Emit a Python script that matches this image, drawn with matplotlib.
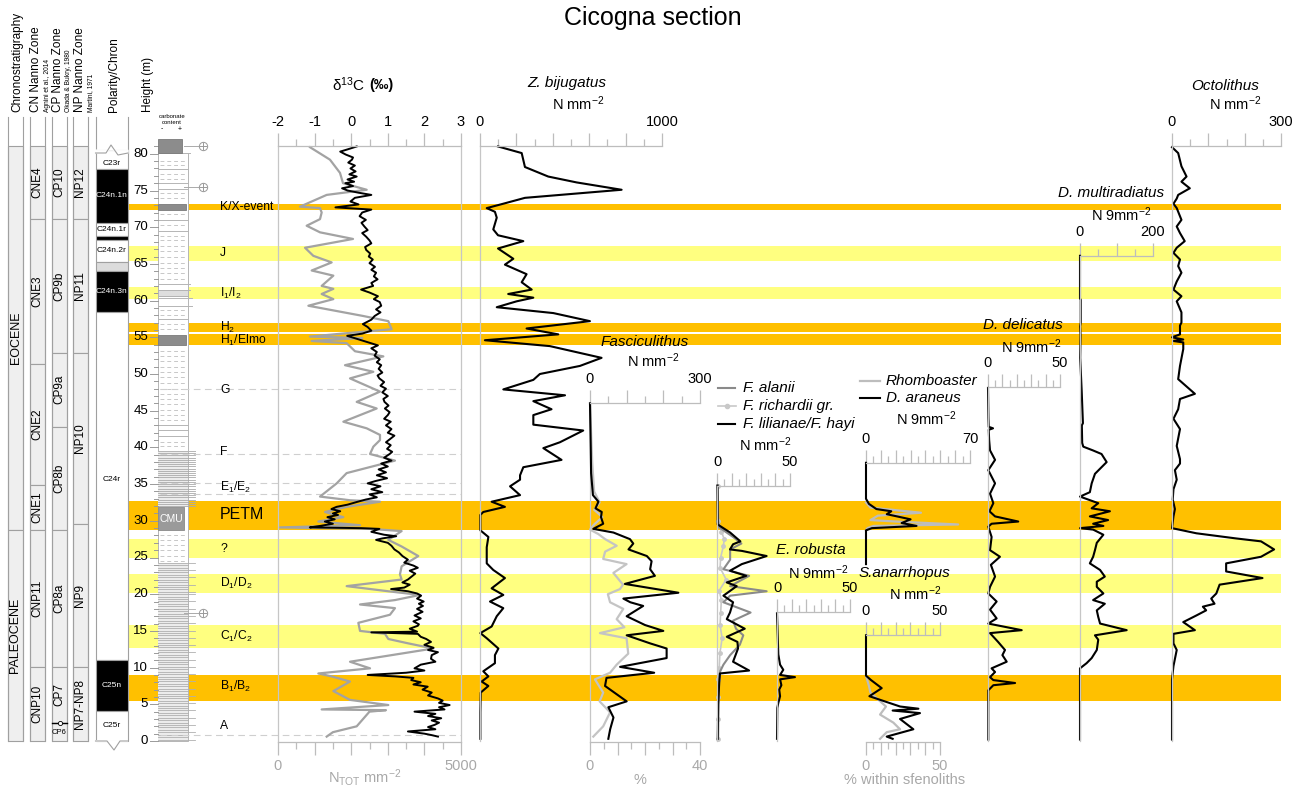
import matplotlib
matplotlib.use('Agg')
import matplotlib.pyplot as plt
from matplotlib.patches import Rectangle
from matplotlib.ticker import MultipleLocator, FuncFormatter
import numpy as np

plt.rcParams['font.family'] = ['Liberation Sans', 'DejaVu Sans']
plt.rcParams['mathtext.fontset'] = 'custom'
plt.rcParams['mathtext.rm'] = 'Liberation Sans'
plt.rcParams['mathtext.it'] = 'Liberation Sans:italic'
plt.rcParams['mathtext.bf'] = 'Liberation Sans:bold'

# ---------------------------------------------------------------- data
band_bottom = [72.4, 65.4, 60.2, 55.7, 53.95, 28.7, 25.0, 20.1, 12.7, 5.5]
band_top = [73.2, 67.4, 61.8, 57.0, 55.4, 32.7, 27.5, 22.7, 15.8, 9.0]
band_strong = [True, False, False, True, True, True, False, False, False, True]

event_labels = ['K/X-event', 'J', 'I$_1$/I$_2$', 'H$_2$', 'H$_1$/Elmo', 'G', 'F',
                'E$_1$/E$_2$', 'PETM', '?', 'D$_1$/D$_2$', 'C$_1$/C$_2$', 'B$_1$/B$_2$', 'A']
event_heights = [72.75, 66.5, 61.0, 56.4, 54.6, 47.8, 39.4, 34.5, 30.8, 26.2, 21.5, 14.3, 7.4, 2.0]

chrono_names = ['EOCENE', 'PALEOCENE']
chrono_bounds = [81.06, 28.75, 0.0]
cn_names = ['CNE4', 'CNE3', 'CNE2', 'CNE1', 'CNP11', 'CNP10']
cn_bounds = [81.06, 71.1, 51.4, 34.9, 28.75, 10.1, 0.0]
cp_names = ['CP10', 'CP9b', 'CP9a', 'CP8b', 'CP8a', 'CP7', '']
cp_bounds = [81.06, 71.1, 52.9, 42.8, 28.75, 10.1, 2.45, 0.0]
np_names = ['NP12', 'NP11', 'NP10', 'NP9', 'NP7-NP8']
np_bounds = [81.06, 71.1, 52.9, 29.6, 10.1, 0.0]

pol_top = [80.5, 77.9, 70.6, 68.8, 68.3, 65.3, 64.0, 58.4, 11.0, 4.1]
pol_bottom = [77.9, 70.6, 68.8, 68.3, 65.3, 64.0, 58.4, 11.0, 4.1, 0.0]
pol_fill = ['white', 'black', 'white', 'black', 'white', '#dcdcdc', 'black', 'white', 'black', 'white']
pol_names = ['C23r', 'C24n.1n', 'C24n.1r', '', 'C24n.2r', '', 'C24n.3n', 'C24r', 'C25n', 'C25r']
pol_label_h = [78.7, 74.3, 69.7, 0, 66.8, 0, 61.2, 35.6, 7.55, 2.05]

d13c_height = [81.0, 80.6, 80.3, 79.9, 79.5, 79.2, 78.8, 78.4, 78.0, 77.6, 77.2, 76.9, 76.5, 76.2,
               76.0, 75.6, 75.3, 75.0, 74.7, 74.4, 74.0, 73.5, 73.1, 72.7, 72.4, 72.0, 71.5, 71.0,
               70.6, 70.1, 69.6, 69.2, 68.7, 68.2, 67.8, 67.3, 66.9, 66.4, 66.0, 65.6, 65.1, 64.6,
               64.2, 63.8, 63.3, 62.9, 62.4, 62.0, 61.5, 61.1, 60.6, 60.2, 59.8, 59.3, 58.8, 58.4,
               57.9, 57.4, 56.8, 56.4, 55.9, 55.5, 55.2, 54.8, 54.4, 53.9, 53.5, 53.0, 52.5, 52.0,
               51.6, 51.2, 50.7, 50.2, 49.8, 49.4, 48.9, 48.4, 48.0, 47.5, 47.0, 46.6, 46.2, 45.7,
               45.3, 44.8, 44.4, 43.9, 43.5, 43.0, 42.5, 42.0, 41.6, 41.1, 40.7, 40.3, 39.8, 39.4,
               39.1, 38.6, 38.2, 37.8, 37.4, 37.0, 36.6, 36.2, 35.8, 35.4, 35.1, 34.7, 34.3, 33.9,
               33.6, 33.2, 32.9, 32.6, 32.2, 31.9, 31.6, 31.3, 31.0, 30.8, 30.5, 30.2, 29.9, 29.6,
               29.3, 29.1, 29.0, 28.9, 28.5, 28.1, 27.9, 27.6, 27.4, 27.0, 26.6, 26.1, 25.7, 25.2,
               24.7, 24.3, 23.9, 23.6, 23.2, 22.8, 22.4, 22.0, 21.6, 21.3, 20.9, 20.7, 20.4, 20.1,
               19.8, 19.4, 19.0, 18.7, 18.4, 18.0, 17.6, 17.1, 16.7, 16.3, 15.9, 15.7, 15.3, 14.9,
               14.8, 14.6, 14.2, 13.9, 13.5, 13.1, 12.7, 12.4, 12.1, 11.7, 11.2, 10.8, 10.4, 9.9,
               9.6, 9.3, 9.0, 8.8, 8.6, 8.3, 8.0, 7.7, 7.4, 7.0, 6.6, 6.2, 5.8, 5.5, 5.2, 4.9, 4.6,
               4.3, 4.0, 3.7, 3.4, 3.1, 2.8, 2.5, 2.2, 1.9, 1.6, 1.3, 1.0, 0.8, 0.6]
d13c_value = [0.15, -0.10, -0.30, -0.15, 0.05, 0.02, -0.08, 0.10, -0.02, 0.12, -0.05, 0.15, -0.10, 0.08,
              -0.16, 0.05, -0.25, -0.10, 0.20, 0.55, 0.10, -0.02, 0.20, -0.43, 0.55, 0.30, 0.23, 0.40,
              0.28, 0.36, 0.45, 0.30, 0.41, 0.50, 0.55, 0.38, 0.41, 0.52, 0.48, 0.59, 0.50, 0.65,
              0.55, 0.68, 0.62, 0.72, 0.55, 0.60, 0.27, 0.50, 0.73, 0.62, 0.78, 0.82, 0.68, 0.80,
              0.64, 0.55, 0.32, 0.45, 0.55, 0.30, -0.11, 0.15, 0.40, 0.73, 0.55, 0.70, 0.64, 0.78,
              0.70, 0.82, 0.75, 0.85, 0.72, 0.77, 0.90, 0.80, 0.95, 0.85, 1.00, 0.88, 0.91, 1.02,
              0.92, 1.05, 1.00, 0.90, 1.08, 0.95, 1.10, 1.00, 1.18, 1.05, 0.95, 1.08, 0.98, 1.12,
              1.05, 0.90, 1.10, 0.82, 1.00, 0.75, 0.95, 0.70, 0.98, 0.65, 0.45, 0.80, 0.55, 0.85,
              0.50, 0.70, 0.40, 0.18, -0.10, -0.40, -0.54, -0.30, -0.50, -0.36, -0.65, -0.45, -0.72, -0.50,
              -0.85, -1.13, 0.27, 0.77, 0.55, 0.90, 1.23, 0.85, 0.68, 1.00, 1.10, 1.18, 1.30, 1.40,
              1.55, 1.45, 1.70, 1.82, 1.60, 1.75, 1.65, 1.55, 1.40, 1.60, 1.45, 1.09, 1.55, 1.80,
              1.91, 1.80, 1.98, 1.85, 1.96, 1.80, 1.95, 1.73, 1.90, 1.70, 1.85, 1.82, 1.60, 1.80,
              0.55, 1.82, 1.90, 2.05, 2.18, 2.00, 2.25, 2.10, 2.37, 2.20, 2.18, 2.30, 1.90, 1.73,
              2.00, 1.50, 0.45, 1.20, 1.70, 1.64, 1.90, 1.70, 2.09, 1.95, 2.20, 2.10, 2.37, 2.50, 2.40, 2.69, 2.40,
              2.55, 1.73, 2.30, 2.10, 2.46, 2.20, 2.40, 2.28, 2.10, 2.30, 1.55, 2.00, 2.20, 2.37]

ntot_height = [80.9, 79.2, 77.4, 76.0, 75.1, 74.4, 74.0, 72.8, 72.6, 72.0, 71.1, 70.2, 69.3, 68.4,
               67.2, 66.1, 65.2, 64.1, 63.4, 62.0, 61.6, 60.9, 60.2, 59.3, 57.9, 57.2, 56.1, 55.6,
               55.1, 54.9, 54.7, 54.5, 54.2, 53.1, 52.4, 51.2, 50.3, 49.4, 47.6, 46.2, 45.3, 43.5,
               42.6, 41.7, 41.0, 40.1, 39.1, 38.2, 36.5, 35.1, 33.3, 32.8, 32.6, 31.9, 31.2, 30.5,
               29.9, 29.4, 29.1, 28.9, 28.6, 27.4, 26.5, 25.2, 23.8, 22.7, 22.0, 21.1, 20.4, 19.9,
               19.2, 18.6, 18.1, 17.2, 16.1, 15.0, 14.6, 13.9, 13.3, 12.6, 11.7, 10.8, 9.9, 9.2,
               8.8, 8.1, 6.8, 5.6, 4.9, 4.3, 4.2, 4.0, 2.0, 1.2, 0.6]
ntot_value = [874, 1420, 1694, 1776, 2423, 1330, 1148, 601, 1148, 1193, 1148, 783, 1148, 2049,
              738, 965, 1466, 920, 1512, 1193, 1512, 1193, 1512, 829, 2332, 3014, 3105, 1967,
              874, 2300, 1603, 920, 1876, 2104, 2878, 1830, 2605, 1967, 2787, 2150, 2696, 1785,
              2423, 2787, 2787, 2605, 2514, 3196, 1876, 1603, 1148, 1967, 2787, 1876, 1284, 1785,
              1102, 2241, 55, 2514, 3378, 3014, 3378, 3833, 3378, 3332, 3378, 1876, 3014, 3878,
              3196, 2241, 3196, 3059, 2195, 2241, 2923, 3014, 3560, 4242, 3105, 1967, 2514, 1102,
              1466, 1967, 1512, 1967, 3014, 1193, 2950, 2500, 2150, 1500, 1330]

zbij_height = [81.0, 80.1, 78.2, 76.9, 76.1, 75.1, 74.0, 73.2, 72.6, 72.1, 71.3, 69.7, 68.9, 68.1,
               67.1, 65.7, 64.9, 63.6, 62.5, 61.5, 60.9, 60.4, 59.9, 59.1, 58.3, 57.2, 56.2, 55.4,
               54.8, 54.6, 53.8, 52.2, 51.1, 50.0, 49.2, 47.9, 47.1, 46.3, 45.2, 44.4, 43.1, 42.3,
               40.7, 39.9, 38.3, 37.3, 36.2, 35.6, 34.7, 33.5, 32.6, 31.9, 31.2, 30.8, 28.7, 27.8,
               26.4, 24.2, 23.3, 22.2, 20.8, 19.9, 19.0, 18.1, 17.0, 15.6, 14.7, 14.0, 12.6, 11.7,
               10.6, 9.5, 8.8, 8.1, 7.5, 6.6, 3.9, 0.3]
zbij_value = [99, 229, 247, 375, 531, 778, 247, 128, 37, 82, 92, 73, 99, 238,
              99, 183, 137, 256, 229, 284, 155, 293, 201, 92, 403, 604, 256, 430,
              128, 27, 384, 668, 549, 329, 293, 128, 467, 293, 393, 293, 293, 567,
              439, 348, 448, 238, 220, 220, 165, 220, 64, 137, 18, 2, 2, 46,
              37, 37, 73, 137, 64, 128, 55, 128, 92, 64, 2, 37, 101, 82,
              82, 18, 46, 9, 46, 4, 2, 2]

fasc_height = [46.0, 40.0, 36.5, 33.5, 32.6, 31.7, 31.2, 30.5, 29.6, 28.9, 28.4, 27.5, 26.9, 26.1,
               25.2, 24.5, 23.4, 22.5, 21.4, 20.2, 19.4, 18.9, 18.4, 17.0, 15.8, 15.0, 14.4, 13.3,
               12.6, 11.3, 10.1, 9.3, 8.6, 7.5, 5.4, 4.6, 3.2, 1.6, 0.3]
fasc_value = [0, 2, 3, 8, 23, 15, 32, 30, 36, 9, 64, 109, 118, 105,
              155, 168, 164, 177, 95, 241, 91, 110, 145, 100, 150, 200, 100, 164,
              209, 209, 82, 175, 45, 41, 100, 50, 64, 55, 50]
fascpct_height = [46.0, 38.0, 34.0, 32.5, 31.5, 30.5, 29.5, 28.8, 28.2, 27.5, 26.6, 25.8, 24.8, 24.1,
                  22.9, 21.3, 20.7, 20.0, 18.9, 18.0, 16.6, 15.5, 14.7, 14.0, 11.9, 10.4, 9.3, 8.4,
                  6.6, 5.4, 3.9, 2.0, 0.6]
fascpct_value = [0, 0.8, 1.5, 3.5, 1.5, 4.5, 1.5, 0, 3, 5.5, 9.7, 5.5, 4.8, 13.3,
                 8.5, 12, 10.9, 6.5, 7.3, 12.1, 9.7, 12.5, 3.6, 13.3, 13.9, 9.7, 7.3, 1.8,
                 4.8, 3.5, 7.3, 4.8, 1.2]

falanii_height = [34.8, 30.0, 29.1, 27.8, 26.9, 26.1, 24.7, 23.4, 22.5, 21.1, 20.4, 19.8, 18.9,
                  17.5, 16.4, 15.3, 14.4, 13.1, 11.7, 10.4, 9.5, 8.0, 5.0, 0.3]
falanii_value = [0.5, 0.8, 1.5, 11, 16.7, 9, 9, 4.4, 22, 9, 34, 9, 4.4,
                 23, 11, 13, 18, 15.6, 9, 4.4, 2.2, 1.5, 1.0, 0.8]
frich_height = [34.8, 30.0, 28.5, 27.5, 26.5, 25.0, 23.6, 22.0, 20.5, 19.2, 17.5, 15.8, 14.0,
                12.0, 10.0, 8.5, 6.0, 3.0, 0.3]
frich_value = [0.5, 1, 3, 5, 4.3, 2.5, 2.1, 6.3, 1.5, 3, 2.5, 2.1, 3.5,
               2, 1.5, 1, 0.8, 0.7, 0.5]
flil_height = [34.8, 29.5, 29.3, 28.4, 27.2, 26.8, 26.1, 25.9, 25.2, 24.1, 23.2, 22.5, 21.6, 21.1,
               19.8, 18.9, 17.5, 16.6, 15.3, 14.2, 13.5, 12.6, 10.8, 9.6, 9.2, 8.0, 5.0, 0.3]
flil_value = [0.3, 0.5, 2, 9, 16, 11, 8.9, 17, 34, 17, 8.9, 20, 6.7, 13.5,
              4.4, 11, 8.9, 6.7, 19, 6.7, 14, 14.4, 11, 22, 2, 1.5, 0.8, 0.5]

erob_height = [17.4, 11.8, 10.4, 9.7, 9.0, 8.7, 8.4, 7.6, 7.0, 6.1, 5.2, 4.5, 0.3]
erob_value = [0, 0.9, 2.1, 4.3, 2.1, 12.3, 2.1, 3.0, 1.5, 2.1, 0.9, 0.2, 0]

darn_height = [37.9, 33.0, 32.3, 31.6, 31.3, 30.9, 30.2, 29.7, 29.3, 29.0, 28.7, 24.1]
darn_value = [0, 0, 2, 7, 17, 14, 30, 24, 34, 4, 0, 0]
rhomb_height = [32.5, 31.8, 31.1, 30.7, 30.1, 29.9, 29.5, 29.3, 29.0, 28.7]
rhomb_value = [0, 3, 37, 8, 3, 20, 62, 5, 1, 0]

sana_height = [14.4, 8.9, 8.3, 7.2, 6.1, 4.7, 4.4, 4.15, 3.8, 3.0, 1.6, 0.6, 0.3]
sana_value = [0, 0, 3.4, 10.6, 2.3, 23, 35.4, 18, 36.5, 23, 32, 14, 18]
sanapct_height = [8.9, 7.5, 6.6, 4.7, 3.6, 2.5, 1.6, 1.2, 0.3]
sanapct_value = [0, 2, 3, 13.5, 9.5, 18.5, 23, 14, 9.5]

ddel_height = [48.1, 44.0, 42.8, 42.6, 42.4, 41.0, 39.6, 38.3, 36.9, 35.1, 33.7, 32.4, 31.3, 30.6,
               29.9, 29.6, 29.2, 27.8, 26.0, 25.1, 24.0, 22.4, 21.0, 20.1, 19.0, 17.9, 16.7, 16.0,
               15.1, 14.7, 13.5, 12.4, 11.7, 10.8, 9.9, 9.4, 8.7, 8.3, 7.9, 7.6, 6.9, 0.2]
ddel_value = [0, 0.3, 0.5, 3.5, 0.5, 0.8, 1.4, 4.9, 0.2, 4.9, 1.4, 3.7, 1.0, 4.9,
              21, 2.5, 0.2, 2.5, 1.4, 8.3, 2.0, 4.9, 1.4, 0.2, 6.0, 1.4, 6.0, 0.2,
              23.4, 1.4, 7.0, 11.8, 10.0, 13.0, 2.5, 4.9, 1.4, 3.7, 18.8, 3.7, 0.2, 0.2]

dmul_height = [66.1, 60.3, 60.1, 57.0, 56.5, 55.3, 52.2, 47.7, 43.3, 43.0, 40.6, 40.1, 39.6, 39.1,
               38.0, 36.4, 35.1, 33.9, 33.3, 32.4, 31.7, 31.3, 30.6, 30.1, 29.6, 29.3, 29.0, 28.8,
               28.1, 27.0, 26.0, 25.1, 24.2, 23.3, 22.4, 21.7, 21.0, 20.1, 19.2, 18.7, 17.8, 16.9,
               16.0, 15.1, 14.4, 13.8, 12.4, 11.3, 10.6, 9.9, 0.2]
dmul_value = [0, 0, 2, 2, 0.5, 1.5, 0.5, 4.6, 8, 5, 6, 9, 35, 59,
              73, 41, 32, 27, 0, 50, 32, 82, 27, 77, 36, 64, 0, 36,
              64, 46, 41, 36, 27, 55, 68, 46, 46, 64, 36, 68, 46, 50,
              55, 128, 41, 50, 46, 32, 18, 0, 0]

octo_height = [80.9, 80.1, 78.3, 76.9, 76.2, 75.3, 74.4, 73.9, 73.2, 72.6, 71.0, 70.1, 69.2, 68.1,
               67.2, 66.5, 65.6, 64.7, 63.8, 62.6, 61.5, 60.6, 59.9, 58.4, 57.0, 56.6, 55.4, 55.0,
               54.7, 54.5, 54.3, 53.4, 51.1, 49.3, 47.3, 46.6, 45.2, 43.9, 42.5, 40.2, 38.4, 37.8,
               36.9, 35.6, 34.3, 32.9, 31.6, 30.6, 29.0, 28.3, 27.6, 27.2, 26.1, 25.1, 24.2, 23.1,
               22.2, 21.3, 20.1, 19.4, 18.7, 18.3, 17.8, 17.1, 16.2, 15.1, 14.6, 13.3, 12.4, 10.2,
               8.4, 0.2]
octo_value = [0, 17, 26, 40, 26, 49, 17, 13, 4, 13, 26, 13, 22, 35,
              13, 4, 22, 17, 26, 13, 4, 26, 13, 26, 26, 22, 22, 0,
              31, 4, 31, 31, 22, 17, 63, 22, 17, 4, 22, 13, 22, 22,
              8, 13, 4, 2, 8, 4, 0, 67, 176, 245, 281, 245, 149, 149,
              249, 131, 122, 108, 117, 85, 94, 67, 31, 63, 4, 4, 13, 4,
              0, 0]

# lithology (decorative beds)
litho_dark_bottom = [80.1, 72.4, 53.95]
litho_dark_top = [82.0, 73.2, 55.3]
litho_dark_right = [182, 186, 186]
litho_bed_h = [80.1, 77.9, 76.0, 75.2, 71.0, 69.5, 62.2, 61.5, 60.6, 60.4, 59.3, 57.5, 43.0, 42.4, 41.5, 39.5]
litho_bed_right = [190, 188, 188, 188, 188, 188, 190, 190, 188, 192, 192, 188, 188, 188, 188, 195]
marl_dash_h = [79.0, 78.5, 77.2, 76.6, 74.6, 74.0, 71.8, 70.3, 68.8, 68.2, 67.4, 66.7, 65.9, 65.1,
               64.4, 63.7, 63.0, 58.7, 58.0, 56.8, 56.1, 53.2, 52.5, 51.8, 51.0, 50.3, 49.6, 48.8,
               48.0, 47.3, 46.6, 45.9, 45.1, 44.4, 43.7, 40.8, 40.2, 28.1, 27.4, 26.7, 26.0, 25.2, 24.5]
thru_dash_h = [48.0, 39.1, 35.1, 33.7, 0.8]
markers_h = [81.05, 75.5, 17.4]

# ---------------------------------------------------------------- helpers
W, H = 1306, 795
Y0, PPM = 741.0, 7.34


def y2h(y):
    return (Y0 - y) / PPM


ORANGE = '#FFC000'
YELLOW = '#FFFF80'
RULER = '#bdbdbd'
ZLINE = '#c6c6c6'
GTXT = '#a8a8a8'
COLEDGE = '#a0a0a0'

fig = plt.figure(figsize=(W / 100, H / 100), dpi=100)
fig.patch.set_facecolor('white')


def ftext(x, y, s, **kw):
    kw.setdefault('ha', 'center')
    kw.setdefault('va', 'center')
    fig.text(x / W, 1 - y / H, s, **kw)


bg = fig.add_axes([0, 0, 1, 1])
bg.set_xlim(0, W)
bg.set_ylim(y2h(H), y2h(0))
bg.axis('off')

# bands
for lo, hi, strong in zip(band_bottom, band_top, band_strong):
    bg.add_patch(Rectangle((128, lo), 1281 - 128, hi - lo, facecolor=ORANGE if strong else YELLOW,
                           edgecolor='none', zorder=1))

# stratigraphic columns
def zone_column(x0, x1, bounds, names, fs=8.5):
    bg.plot([x0, x0], [y2h(117), 0], color=COLEDGE, lw=0.8, zorder=3)
    bg.plot([x1, x1], [y2h(117), 0], color=COLEDGE, lw=0.8, zorder=3)
    for top, bot, name in zip(bounds[:-1], bounds[1:], names):
        bg.add_patch(Rectangle((x0, bot), x1 - x0, top - bot, facecolor='#efefef',
                               edgecolor=COLEDGE, lw=0.8, zorder=2))
        if name:
            bg.text((x0 + x1) / 2, (top + bot) / 2, name, rotation=90, ha='center', va='center',
                    fontsize=fs, zorder=4)


zone_column(8, 23, chrono_bounds, chrono_names, 9)
zone_column(30, 45, cn_bounds, cn_names)
zone_column(52, 67, cp_bounds, cp_names)
zone_column(73, 88, np_bounds, np_names)
bg.plot([52, 67], [2.45, 2.45], color='black', lw=1.0, zorder=4)
bg.plot([59.5], [2.45], marker='o', ms=3, mfc='white', mec='black', mew=0.6, zorder=5)
bg.text(59.5, y2h(732), 'CP6', fontsize=5.5, ha='center', va='center', zorder=4)

# polarity
bg.plot([95.5, 95.5], [y2h(117), y2h(153)], color=COLEDGE, lw=0.8)
bg.plot([128, 128], [y2h(117), y2h(153)], color=COLEDGE, lw=0.8)
for top, bot, fill, name, lh in zip(pol_top, pol_bottom, pol_fill, pol_names, pol_label_h):
    bg.add_patch(Rectangle((95.5, bot), 128 - 95.5, top - bot, facecolor=fill, edgecolor=COLEDGE,
                           lw=0.8, zorder=2))
    if name:
        bg.text(111.5, lh, name, fontsize=6, ha='center', va='center',
                color='white' if fill == 'black' else 'black', zorder=4)
bg.fill([95.5, 106, 111, 118, 128, 128, 95.5],
        [y2h(153), y2h(153), y2h(145), y2h(155), y2h(153), 80.5, 80.5], color='white', zorder=3)
bg.plot([95.5, 106, 111, 118, 128], [y2h(153), y2h(153), y2h(145), y2h(155), y2h(153)],
        color=COLEDGE, lw=0.8, zorder=4)
bg.fill([95.5, 107, 114, 120, 128], [0, 0, y2h(750), 0, 0], color='white', zorder=3)
bg.plot([95.5, 107, 114, 120, 128], [0, 0, y2h(750), 0, 0], color=COLEDGE, lw=0.8, zorder=4)

# height axis
for h in range(0, 82):
    major = h % 5 == 0
    bg.plot([150 if major else 154, 158], [h, h], color='#9a9a9a', lw=0.7, zorder=5)
    if major and h <= 80:
        bg.text(148, h, str(h), ha='right', va='center', fontsize=9.5, zorder=6)

# lithology
bg.add_patch(Rectangle((158, 0), 30, 80.1, facecolor='white', edgecolor='#b5b5b5', lw=0.7, zorder=3))
bg.add_patch(Rectangle((158, 0), 30, 24.3, facecolor='#ececec', edgecolor='none', zorder=3))
bg.add_patch(Rectangle((158, 31.9), 30, 7.6, facecolor='#ececec', edgecolor='none', zorder=3))
for hh in np.arange(0.2, 24.3, 0.33):
    bg.plot([158, 195 if int(hh * 3) % 3 == 0 else 188], [hh, hh], color='#b0b0b0', lw=0.6, zorder=4)
for hh in np.arange(32.0, 39.5, 0.3):
    bg.plot([158, 195], [hh, hh], color='#aaaaaa', lw=0.6, zorder=4)
for hh, xr in zip(litho_bed_h, litho_bed_right):
    bg.plot([158, xr], [hh, hh], color='#b5b5b5', lw=0.7, zorder=4)
for hh in marl_dash_h:
    bg.plot([160, 186], [hh, hh], color='#c8c8c8', lw=0.7, ls=(0, (4, 3)), zorder=4)
for lo, hi, xr in zip(litho_dark_bottom, litho_dark_top, litho_dark_right):
    bg.add_patch(Rectangle((158, lo), xr - 158, hi - lo, facecolor='#8c8c8c', edgecolor='#7a7a7a',
                           lw=0.6, zorder=5))
bg.add_patch(Rectangle((158, 60.6), 30, 0.9, facecolor='#dedede', edgecolor='#b0b0b0', lw=0.6, zorder=5))
bg.add_patch(Rectangle((158, 28.75), 26, 3.15, facecolor='#9a9a9a', edgecolor='#8a8a8a', lw=0.6, zorder=5))
bg.text(171, 30.3, 'CMU', color='white', fontsize=7.5, ha='center', va='center', zorder=6)
for hh in thru_dash_h:
    bg.plot([160, 461], [hh, hh], color='#cfcfcf', lw=0.8, ls=(0, (6, 4)), zorder=4)
for hh in markers_h:
    bg.plot([184, 200], [hh, hh], color='#aaaaaa', lw=0.7, zorder=5)
    bg.plot([203], [hh], marker='o', ms=6, mfc='white', mec='#999999', mew=0.7, zorder=6)
    bg.plot([203], [hh], marker='+', ms=6, mec='#999999', mew=0.7, zorder=7)

# event labels
for lab, hh in zip(event_labels, event_heights):
    bg.text(220, hh, lab, fontsize=11.5 if lab == 'PETM' else 8.7, ha='left', va='center', zorder=6)

# ---------------------------------------------------------------- panels
def configure(ax, lo, hi, major, minor, where='top', labcolor='black', zero=False):
    ax.set_xlim(lo, hi)
    ax.patch.set_visible(False)
    for s in ax.spines.values():
        s.set_visible(False)
    ax.set_yticks([])
    sp = ax.spines[where]
    sp.set_visible(True)
    sp.set_color(RULER)
    sp.set_linewidth(0.9)
    if zero:
        ax.spines['left'].set_visible(True)
        ax.spines['left'].set_color(ZLINE)
        ax.spines['left'].set_linewidth(0.9)
    ax.xaxis.set_ticks_position(where)
    ax.xaxis.set_major_locator(MultipleLocator(major))
    ax.xaxis.set_minor_locator(MultipleLocator(minor))
    span = hi - lo
    ax.xaxis.set_major_formatter(FuncFormatter(
        lambda v, p: ('%g' % v) if min(abs(v - lo), abs(v - hi)) < 1e-6 * span else ''))
    ax.tick_params(axis='x', which='major', direction='out', length=9.5, width=0.9, color=RULER,
                   pad=3.0, labelsize=10.5, labelcolor=labcolor)
    ax.tick_params(axis='x', which='minor', direction='out', length=5, width=0.9, color=RULER)


def panel(x0, x1, ytop, ybot):
    ax = fig.add_axes([x0 / W, 1 - ybot / H, (x1 - x0) / W, (ybot - ytop) / H])
    ax.set_ylim(y2h(ybot), y2h(ytop))
    return ax


LW = 1.5
# delta 13C / N_TOT
axn = panel(278, 461, 146, 742)
axd = axn.twiny()
configure(axn, 0, 5000, 1000, 500, where='bottom', labcolor=GTXT)
for s in ('left', 'right'):
    axn.spines[s].set_visible(True)
    axn.spines[s].set_color(ZLINE)
    axn.spines[s].set_linewidth(0.9)
axn.plot(ntot_value, ntot_height, color='#a3a3a3', lw=1.6, clip_on=False)
configure(axd, -2, 3, 1, 0.5, where='top')
axd.xaxis.set_major_formatter(FuncFormatter(lambda v, p: '%g' % v))
axd.plot(d13c_value, d13c_height, color='black', lw=1.4, clip_on=False)

# Z. bijugatus
axz = panel(480, 662, 146, 741)
configure(axz, 0, 1000, 200, 100, zero=True)
axz.plot(zbij_value, zbij_height, color='black', lw=LW, clip_on=False)

# Fasciculithus
axfp = panel(590, 700, 403, 742)
axf = axfp.twiny()
configure(axfp, 0, 40, 10, 5, where='bottom', labcolor=GTXT, zero=True)
axfp.plot(fascpct_value, fascpct_height, color='#c4c4c4', lw=1.6, clip_on=False)
configure(axf, 0, 300, 100, 50, where='top')
axf.plot(fasc_value, fasc_height, color='black', lw=LW, clip_on=False)

# Fasciculithus species
axs = panel(717, 790, 486, 741)
configure(axs, 0, 50, 10, 5, zero=True)
axs.plot(frich_value, frich_height, color='#c8c8c8', lw=1.2, marker='o', ms=2.5, clip_on=False)
axs.plot(falanii_value, falanii_height, color='#8a8a8a', lw=1.5, clip_on=False)
axs.plot(flil_value, flil_height, color='black', lw=LW, clip_on=False)

# E. robusta
axe = panel(777, 850, 612, 741)
configure(axe, 0, 50, 10, 5, zero=True)
axe.plot(erob_value, erob_height, color='black', lw=LW, clip_on=False)

# Rhomboaster / D. araneus
axr = panel(866, 970, 463, 566)
configure(axr, 0, 70, 10, 5)
axr.plot(rhomb_value, rhomb_height, color='#bdbdbd', lw=1.6, clip_on=False)
axr.plot(darn_value, darn_height, color='black', lw=LW, clip_on=False)

# S. anarrhopus (top ruler N mm-2, bottom ruler % within sfenoliths)
axa = panel(866, 940, 635, 742)
axa2 = axa.twiny()
configure(axa, 0, 50, 10, 5, where='top')
configure(axa2, 0, 50, 10, 5, where='bottom', labcolor=GTXT)
axa.plot(sanapct_value, sanapct_height, color='#bdbdbd', lw=1.6, clip_on=False)
axa.plot(sana_value, sana_height, color='black', lw=LW, clip_on=False)

# D. delicatus
axdd = panel(988, 1060, 387, 741)
configure(axdd, 0, 50, 10, 5, zero=True)
axdd.plot(ddel_value, ddel_height, color='black', lw=LW, clip_on=False)

# D. multiradiatus
axdm = panel(1080, 1153, 256, 741)
configure(axdm, 0, 200, 100, 50, zero=True)
axdm.plot(dmul_value, dmul_height, color='black', lw=LW, clip_on=False)

# Octolithus
axo = panel(1172, 1281, 146, 741)
configure(axo, 0, 300, 100, 50, zero=True)
axo.plot(octo_value, octo_height, color='black', lw=LW, clip_on=False)

# ---------------------------------------------------------------- texts
ftext(653, 18, 'Cicogna section', fontsize=18)

hdr = [(17, 'Chronostratigraphy', 8.5), (36, 'CN Nanno Zone', 8.5), (47.5, 'Agnini et al., 2014', 4.8),
       (58, 'CP Nanno Zone', 8.5), (69, 'Okada & Bukry, 1980', 4.8), (80, 'NP Nanno Zone', 8.5),
       (90.5, 'Martini, 1971', 4.8), (114, 'Polarity/Chron', 8.5), (148, 'Height (m)', 8.5)]
for x, s, fs in hdr:
    ftext(x, 112, s, rotation=90, va='bottom', fontsize=fs)
ftext(172, 117, 'carbonate', fontsize=4.3)
ftext(172, 123, 'content', fontsize=4.3)
ftext(162, 129, '-', fontsize=5)
ftext(180, 129, '+', fontsize=5)

ftext(365, 85, 'δ$^{13}$C', fontsize=11, ha='right')
ftext(369, 85, '(‰)', fontsize=10.5, ha='left', weight='bold')
ftext(365, 777, 'N$_{\\mathrm{TOT}}$ mm$^{-2}$', fontsize=10.5, color=GTXT)

IT = dict(fontsize=11, style='italic')
ftext(567, 83, 'Z. bijugatus', **IT)
ftext(578, 104, 'N mm$^{-2}$', fontsize=10.5)
ftext(645, 342, 'Fasciculithus', **IT)
ftext(653, 361, 'N mm$^{-2}$', fontsize=10.5)
ftext(640, 780, '%', fontsize=10.5, color=GTXT)
ftext(765, 445, 'N mm$^{-2}$', fontsize=10.5)
ftext(811, 550, 'E. robusta', **IT)
ftext(818, 573, 'N 9mm$^{-2}$', fontsize=10.5)
ftext(904, 573, 'S.anarrhopus', **IT)
ftext(915, 594, 'N mm$^{-2}$', fontsize=10.5)
ftext(905, 780, '% within sfenoliths', fontsize=10.5, color=GTXT)
ftext(926, 419, 'N 9mm$^{-2}$', fontsize=10.5)
ftext(1023, 325, 'D. delicatus', **IT)
ftext(1031, 347, 'N 9mm$^{-2}$', fontsize=10.5)
ftext(1111, 193, 'D. multiradiatus', **IT)
ftext(1121, 215, 'N 9mm$^{-2}$', fontsize=10.5)
ftext(1225, 86, 'Octolithus', **IT)
ftext(1235, 104, 'N mm$^{-2}$', fontsize=10.5)

# legends
bg.plot([718, 735], [y2h(388)] * 2, color='#8a8a8a', lw=1.5)
bg.plot([718, 736], [y2h(406)] * 2, color='#c8c8c8', lw=1.2)
bg.plot([727], [y2h(406)], marker='o', ms=3, color='#c8c8c8')
bg.plot([718, 735], [y2h(424)] * 2, color='black', lw=1.5)
bg.text(743, y2h(388), 'F. alanii', ha='left', va='center', **IT)
bg.text(743, y2h(406), 'F. richardii gr.', ha='left', va='center', **IT)
bg.text(743, y2h(424), 'F. lilianae/F. hayi', ha='left', va='center', **IT)
bg.plot([860, 880], [y2h(381)] * 2, color='#bdbdbd', lw=1.6)
bg.plot([860, 880], [y2h(398)] * 2, color='black', lw=1.5)
bg.text(886, y2h(381), 'Rhomboaster', ha='left', va='center', **IT)
bg.text(886, y2h(398), 'D. araneus', ha='left', va='center', **IT)

fig.savefig('out.png', dpi=100, facecolor='white')
